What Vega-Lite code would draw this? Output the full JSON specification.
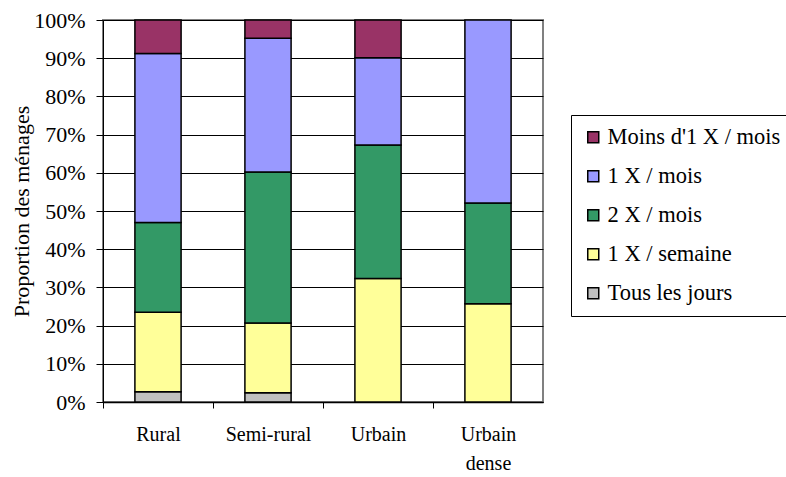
{
  "$schema": "https://vega.github.io/schema/vega-lite/v6.json",
  "width": 440,
  "height": 382,
  "autosize": {"type": "none"},
  "padding": {"left": 103, "top": 20, "right": 243, "bottom": 75},
  "background": "white",
  "config": {
    "font": "Liberation Serif",
    "view": {"stroke": "#808080", "strokeWidth": 2}
  },
  "data": {
    "values": [
      {"zone": "Rural", "freq": "Tous les jours", "rang": 0, "part": 0.027},
      {"zone": "Rural", "freq": "1 X / semaine", "rang": 1, "part": 0.208},
      {"zone": "Rural", "freq": "2 X / mois", "rang": 2, "part": 0.235},
      {"zone": "Rural", "freq": "1 X / mois", "rang": 3, "part": 0.442},
      {"zone": "Rural", "freq": "Moins d'1 X / mois", "rang": 4, "part": 0.088},
      {"zone": "Semi-rural", "freq": "Tous les jours", "rang": 0, "part": 0.024},
      {"zone": "Semi-rural", "freq": "1 X / semaine", "rang": 1, "part": 0.183},
      {"zone": "Semi-rural", "freq": "2 X / mois", "rang": 2, "part": 0.395},
      {"zone": "Semi-rural", "freq": "1 X / mois", "rang": 3, "part": 0.350},
      {"zone": "Semi-rural", "freq": "Moins d'1 X / mois", "rang": 4, "part": 0.048},
      {"zone": "Urbain", "freq": "1 X / semaine", "rang": 1, "part": 0.323},
      {"zone": "Urbain", "freq": "2 X / mois", "rang": 2, "part": 0.350},
      {"zone": "Urbain", "freq": "1 X / mois", "rang": 3, "part": 0.228},
      {"zone": "Urbain", "freq": "Moins d'1 X / mois", "rang": 4, "part": 0.099},
      {"zone": "Urbain dense", "freq": "1 X / semaine", "rang": 1, "part": 0.257},
      {"zone": "Urbain dense", "freq": "2 X / mois", "rang": 2, "part": 0.264},
      {"zone": "Urbain dense", "freq": "1 X / mois", "rang": 3, "part": 0.479}
    ]
  },
  "mark": {"type": "bar", "stroke": "black", "strokeWidth": 1.5},
  "encoding": {
    "x": {
      "field": "zone",
      "type": "nominal",
      "scale": {"paddingInner": 0.58, "paddingOuter": 0.29},
      "axis": {
        "title": null,
        "labelAngle": 0,
        "labelFontSize": 20,
        "labelColor": "black",
        "labelPadding": 16,
        "labelLineHeight": 29,
        "labelExpr": "datum.label == 'Urbain dense' ? ['Urbain', 'dense'] : datum.label",
        "tickOffset": -55,
        "labelOffset": 55,
        "domainColor": "black",
        "domainWidth": 1.5,
        "tickColor": "black",
        "tickSize": 6,
        "grid": false
      }
    },
    "y": {
      "field": "part",
      "type": "quantitative",
      "stack": "zero",
      "scale": {"domain": [0, 1]},
      "axis": {
        "title": "Proportion des ménages",
        "titleFontSize": 22,
        "titleFontWeight": "normal",
        "titleColor": "black",
        "titlePadding": 0,
        "tickCount": 10,
        "format": ".0%",
        "labelFontSize": 22,
        "labelColor": "black",
        "labelPadding": 11,
        "domainColor": "black",
        "tickColor": "black",
        "tickSize": 7,
        "gridColor": "black",
        "gridOpacity": 1
      }
    },
    "order": {"field": "rang", "type": "quantitative"},
    "color": {
      "field": "freq",
      "type": "nominal",
      "scale": {
        "domain": ["Moins d'1 X / mois", "1 X / mois", "2 X / mois", "1 X / semaine", "Tous les jours"],
        "range": ["#993366", "#9999FF", "#339966", "#FFFF99", "#C0C0C0"]
      },
      "legend": {
        "title": null,
        "orient": "none",
        "legendX": 468,
        "legendY": 95,
        "strokeColor": "black",
        "padding": 11,
        "symbolType": "square",
        "symbolSize": 121,
        "symbolOffset": 0,
        "symbolStrokeColor": "black",
        "symbolStrokeWidth": 1.5,
        "labelFontSize": 22.5,
        "labelColor": "black",
        "labelLimit": 400,
        "labelOffset": 3,
        "rowPadding": 16
      }
    }
  }
}
